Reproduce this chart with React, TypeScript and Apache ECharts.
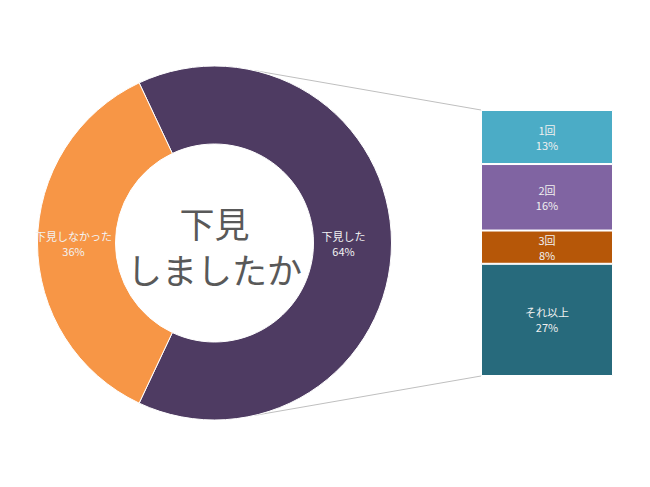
import React, { useEffect, useRef } from "react";
import * as echarts from "echarts";

const pieNames = ["下見した", "下見しなかった"];
const pieValues = [64, 36];
const pieColors = ["#4E3B62", "#F79646"];

const barNames = ["1回", "2回", "3回", "それ以上"];
const barValues = [13, 16, 8, 27];
const barColors = ["#4BACC6", "#8064A2", "#B65708", "#276A7C"];

const centerTitleLines = ["下見", "しましたか"];

export default function App() {
  const ref = useRef<HTMLDivElement>(null);
  useEffect(() => {
    if (!ref.current) return;
    const chart = echarts.init(ref.current, undefined, { renderer: "svg" });
    const cx = 214.5;
    const cy = 243;
    const rOut = 177;
    const rIn = 99;
    const gLeft = 481;
    const gTop = 110;
    const gW = 132;
    const gH = 266;
    const total = pieValues.reduce((a, b) => a + b, 0);
    const startAngle = (pieValues[0] / total) * 180; // purple centred at 3 o'clock
    const lineAng = (13 * Math.PI) / 180;
    const topPt = [cx + rOut * Math.sin(lineAng), cy - rOut * Math.cos(lineAng)];
    const botPt = [cx + rOut * Math.sin(lineAng), cy + rOut * Math.cos(lineAng)];
    const font = "'Noto Sans CJK JP', 'Noto Sans', sans-serif";

    chart.setOption({
      animation: false,
      grid: { left: gLeft, top: gTop, width: gW, height: gH },
      xAxis: { type: "category", data: [""], show: false },
      yAxis: {
        type: "value",
        min: 0,
        max: barValues.reduce((a, b) => a + b, 0),
        inverse: true,
        show: false,
      },
      graphic: [
        {
          type: "line",
          shape: { x1: topPt[0], y1: topPt[1], x2: gLeft, y2: gTop },
          style: { stroke: "#BFBFBF", lineWidth: 1 },
          z: -1,
        },
        {
          type: "line",
          shape: { x1: botPt[0], y1: botPt[1], x2: gLeft, y2: gTop + gH },
          style: { stroke: "#BFBFBF", lineWidth: 1 },
          z: -1,
        },
        ...centerTitleLines.map((t, i) => ({
          type: "text",
          x: cx,
          y: cy - 21 + i * 46,
          style: {
            text: t,
            fill: "#595959",
            font: `35px ${font}`,
            align: "center",
            verticalAlign: "middle",
          },
        })),
      ],
      series: [
        {
          type: "pie",
          center: [cx, cy],
          radius: [rIn, rOut],
          startAngle: startAngle,
          clockwise: true,
          avoidLabelOverlap: false,
          itemStyle: { borderColor: "#fff", borderWidth: 1 },
          label: {
            show: true,
            position: "inside",
            formatter: "{b}\n{c}%",
            color: "#F2F2F2",
            fontSize: 11,
            lineHeight: 15,
            fontFamily: font,
          },
          labelLine: { show: false },
          data: pieNames.map((n, i) => ({
            name: n,
            value: pieValues[i],
            itemStyle: { color: pieColors[i] },
            label: i === 0 ? { offset: [-12, 0] } : {},
          })),
        },
        ...barNames.map((n, i) => ({
          type: "bar",
          name: n,
          stack: "total",
          barWidth: "100%",
          data: [barValues[i]],
          itemStyle: { color: barColors[i], borderColor: "#fff", borderWidth: 1 },
          label: {
            show: true,
            position: "inside",
            formatter: "{a}\n{c}%",
            color: "#F0F0F0",
            fontSize: 11,
            lineHeight: 15,
            fontFamily: font,
          },
        })),
      ],
    });
    return () => chart.dispose();
  }, []);
  return (
    <div
      ref={ref}
      style={{ position: "fixed", left: 0, top: 0, width: 650, height: 487, background: "#fff" }}
    />
  );
}
